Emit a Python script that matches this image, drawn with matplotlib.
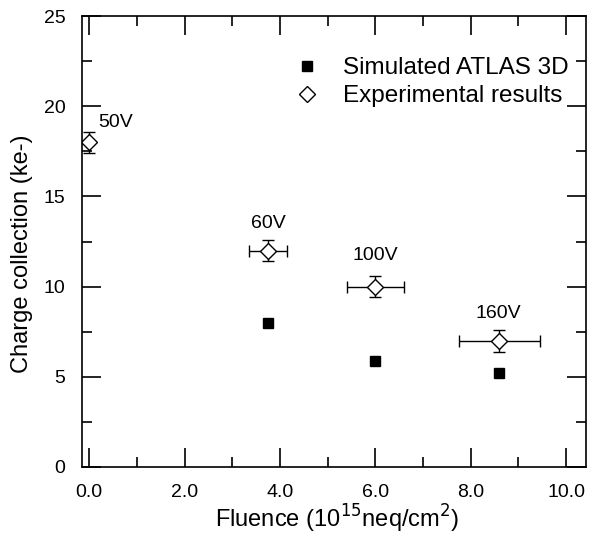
import numpy as np
import matplotlib
matplotlib.use("Agg")
import matplotlib.pyplot as plt
from matplotlib.ticker import MultipleLocator
from matplotlib.lines import Line2D

plt.rcParams["font.family"] = ["Liberation Sans", "DejaVu Sans"]

# ---------------------------
# DATA
# ---------------------------
sim_fluence = [3.75, 6.0, 8.6]
sim_charge = [8.0, 5.9, 5.2]

exp_fluence = [0.0, 3.75, 6.0, 8.6]
exp_charge = [18.0, 12.0, 10.0, 7.0]
exp_xerr = [0.0, 0.39, 0.6, 0.85]
exp_yerr = [0.6, 0.6, 0.6, 0.6]

bias_labels = ["50V", "60V", "100V", "160V"]
label_x = [0.55, 3.75, 6.0, 8.57]
label_y = [19.1, 13.5, 11.75, 8.5]

# ---------------------------
# FIGURE
# ---------------------------
fig = plt.figure(figsize=(5.92, 5.37), dpi=100)
ax = fig.add_axes([0.1385, 0.1304, 0.8515, 0.8396])

ax.plot(sim_fluence, sim_charge, "s", color="black", markersize=7.5,
        linestyle="none")

ax.errorbar(exp_fluence, exp_charge, xerr=exp_xerr, yerr=exp_yerr,
            fmt="D", markersize=8, markerfacecolor="white",
            markeredgecolor="black", markeredgewidth=1.0,
            ecolor="black", elinewidth=1.0, capsize=4, capthick=1.0)

for lx, ly, txt in zip(label_x, label_y, bias_labels):
    ax.text(lx, ly, txt, ha="center", va="center", fontsize=14)

ax.set_xlim(-0.15, 10.42)
ax.set_ylim(0, 25)
ax.xaxis.set_minor_locator(MultipleLocator(1))
ax.yaxis.set_major_locator(MultipleLocator(5))
ax.yaxis.set_minor_locator(MultipleLocator(2.5))
ax.set_xticks([0, 2, 4, 6, 8, 10])
ax.set_xticklabels(["0.0", "2.0", "4.0", "6.0", "8.0", "10.0"])

ax.tick_params(which="both", direction="in", top=True, right=True,
               labelsize=14, width=1.2)
ax.tick_params(which="major", length=14, pad=12)
ax.tick_params(which="minor", length=7)
for sp in ax.spines.values():
    sp.set_linewidth(1.2)

ax.set_xlabel(r"Fluence (10$^{15}$neq/cm$^{2}$)", fontsize=17)
ax.set_ylabel("Charge collection (ke-)", fontsize=17)
ax.xaxis.label.set_va("center")
ax.yaxis.label.set_va("center")
ax.xaxis.set_label_coords(0.507, -0.116)
ax.yaxis.set_label_coords(-0.119, 0.474)

handles = [
    Line2D([], [], marker="s", color="black", linestyle="none", markersize=7.5),
    Line2D([], [], marker="D", markerfacecolor="white", markeredgecolor="black",
           linestyle="none", markersize=8),
]
ax.legend(handles, ["Simulated ATLAS 3D", "Experimental results"],
          loc="upper right", fontsize=17.5, frameon=False,
          bbox_to_anchor=(0.985, 0.93), handletextpad=0.9, labelspacing=0.25,
          handlelength=1.2, borderaxespad=0)

plt.savefig("out.png", dpi=100)
